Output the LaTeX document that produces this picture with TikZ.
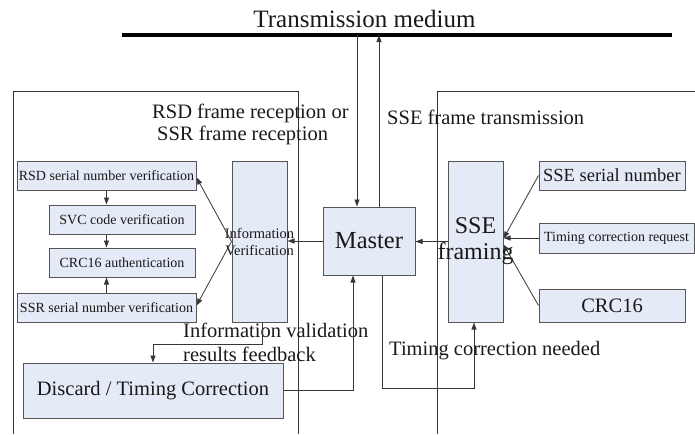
\documentclass[tikz,border=0pt]{standalone}
\usepackage{fontspec}
\setmainfont{Liberation Serif}
\usetikzlibrary{arrows.meta}
\definecolor{boxfill}{RGB}{228,234,246}
\definecolor{boxline}{RGB}{85,85,85}
\definecolor{frameline}{RGB}{55,55,55}
\definecolor{txt}{RGB}{25,25,25}
\begin{document}
\begin{tikzpicture}[x=1pt,y=-1pt,
  box/.style={draw=boxline, fill=boxfill, line width=1pt, inner sep=0pt, text=txt, align=center},
  conn/.style={draw=frameline, line width=0.8pt},
  arr/.style={conn, -{Triangle[length=7pt,width=5pt]}},
  lbl/.style={inner sep=0pt, anchor=base west, text=txt, font=\fontsize{20.5}{24}\selectfont},
  framel/.style={draw=frameline, line width=0.9pt},
  small/.style={font=\fontsize{14}{16}\selectfont},
  big/.style={font=\fontsize{20.5}{24}\selectfont}]
\useasboundingbox (0,0) rectangle (695,434);

% frames
\draw[framel] (13,434) -- (13,91) -- (298,91) -- (298,434);
\draw[framel] (437,434) -- (437,91) -- (695,91);

% transmission medium
\node[inner sep=0pt, anchor=base, text=txt, font=\fontsize{25}{28}\selectfont] (title) at (364.5,27) {Transmission medium};
\coordinate (mL) at (122,35);
\coordinate (mR) at (672,35);
\draw[line width=3.5pt, black] (mL) -- (mR);
\coordinate (mIn) at (357,35);
\coordinate (mOut) at (379,35);

% left column
\node[box, small, minimum width=179pt, minimum height=29pt] (rsd) at (106.5,175.5) {RSD serial number verification};
\node[box, small, minimum width=146pt, minimum height=29pt] (svc) at (122,219.5) {SVC code verification};
\node[box, small, minimum width=146pt, minimum height=29pt] (crcl) at (122,262.5) {CRC16 authentication};
\node[box, small, minimum width=179pt, minimum height=29pt] (ssr) at (106.5,307.5) {SSR serial number verification};
\node[box, font=\fontsize{14.5}{17}\selectfont, minimum width=55pt, minimum height=161pt] (info) at (259.5,241.5)
  {\makebox[0pt]{Information}\\\makebox[0pt]{Verification}};

% master
\node[box, font=\fontsize{24.5}{28}\selectfont, minimum width=92pt, minimum height=68pt] (master) at (369,241) {Master};

% right column
\node[box, font=\fontsize{24}{26}\selectfont, minimum width=55pt, minimum height=161pt] (sse) at (475.5,241.5)
  {\makebox[0pt]{SSE}\\\makebox[0pt]{framing}};
\node[box, font=\fontsize{18.5}{21}\selectfont, minimum width=146pt, minimum height=29pt] (sseser) at (612,175.5) {SSE serial number};
\node[box, small, minimum width=155pt, minimum height=30pt] (treq) at (616.5,238) {Timing correction request};
\node[box, big, minimum width=146pt, minimum height=33pt] (crcr) at (612,305.5) {CRC16};

% discard
\node[box, big, minimum width=260pt, minimum height=55pt] (discard) at (153,390.5) {Discard / Timing Correction};

% labels
\node[lbl] (rx1) at (152,118) {RSD frame reception or};
\node[lbl] (rx2) at (157,140) {SSR frame reception};
\node[lbl] (tx) at (387,124) {SSE frame transmission};
\node[lbl] (fb1) at (183,337) {Information validation};
\node[lbl] (fb2) at (183,361) {results feedback};
\node[lbl] (tcn) at (389,355) {Timing correction needed};

% connectors
\draw[arr] (mIn) -- (mIn |- master.north);
\draw[arr] (mOut |- master.north) -- (mOut);
\draw[arr] (rsd.south) -- (rsd.south |- svc.north);
\draw[arr] (svc.south -| rsd.south) -- (crcl.north -| rsd.south);
\draw[arr] (ssr.north) -- (ssr.north |- crcl.south);
\draw[arr] (info.west) -- ([yshift=-2pt]rsd.east);
\draw[arr] (info.west) -- ([yshift=2pt]ssr.east);
\draw[arr] (master.west) -- (master.west -| info.east);
\draw[arr] (sse.west) -- (sse.west -| master.east);
\draw[arr] (sseser.west) -- ([yshift=3pt]sse.east);
\draw[arr] (treq.west) -- (treq.west -| sse.east);
\draw[arr] (crcr.west) -- ([yshift=-3pt]sse.east);
\draw[arr] ([xshift=2.5pt]info.south) -- ++(0,22) -| (discard.north);
\draw[arr] (discard.east) -| ([xshift=-16pt]master.south);
\draw[arr] ([xshift=13pt]master.south) -- ++(0,113) -| ([xshift=-1.5pt]sse.south);
\end{tikzpicture}
\end{document}
